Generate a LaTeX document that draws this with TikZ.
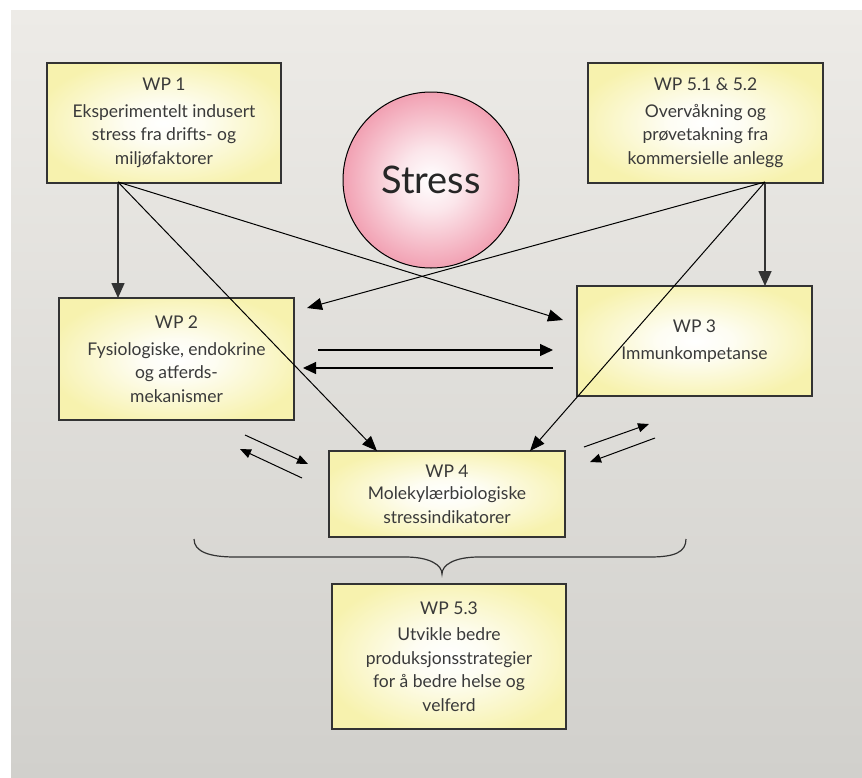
\documentclass[tikz,border=0pt]{standalone}
\usepackage{fontspec}
\setmainfont{Lato}
\usetikzlibrary{arrows.meta,shadings}
\definecolor{bgtop}{HTML}{EDEBE7}
\definecolor{bgbot}{HTML}{D1D0CC}
\definecolor{boxyel}{HTML}{F7F2AE}
\definecolor{pinkc}{HTML}{ED8199}
\definecolor{txt}{HTML}{3A3A3A}
\definecolor{edge}{HTML}{333333}
\pgfdeclareradialshading{stressshade}{\pgfpoint{0bp}{0bp}}{color(0bp)=(white); color(9bp)=(white!80!pinkc); color(30bp)=(pinkc!92!white); color(50bp)=(pinkc)}
\pgfdeclareradialshading{boxshade}{\pgfpoint{0bp}{0bp}}{color(0bp)=(white); color(8bp)=(white!85!boxyel); color(28bp)=(boxyel); color(50bp)=(boxyel)}
\begin{document}
\begin{tikzpicture}[x=1pt,y=-1pt,
  wpbox/.style={draw=edge,line width=1.2pt,shading=boxshade,
    align=center,text=txt,font=\fontsize{17.5}{23.5}\selectfont,inner sep=0pt},
  bigarrow/.style={draw=black,line width=1pt,-{Triangle[length=15pt,width=12pt]}},
  vertarrow/.style={draw=edge,line width=1.6pt,-{Triangle[length=15pt,width=13pt]}},
  smallarrow/.style={draw=black,line width=1pt,-{Triangle[length=11pt,width=9pt]}},
  midarrow/.style={draw=black,line width=1.2pt,-{Triangle[length=13pt,width=12pt]}}]
\useasboundingbox (0,0) rectangle (862,777);
\fill[white] (0,0) rectangle (862,777);
\shade[top color=bgtop,bottom color=bgbot] (11,10) rectangle (862,777);

% boxes
\node[wpbox,minimum width=234pt,minimum height=120pt] (wp1) at (164,123)
  {WP 1\\[3pt]Eksperimentelt indusert\\stress fra drifts- og\\miljøfaktorer};
\node[wpbox,minimum width=235pt,minimum height=120pt] (wp5) at (705.5,123)
  {WP 5.1 \& 5.2\\[3pt]Overvåkning og\\prøvetakning fra\\kommersielle anlegg};
\node[wpbox,minimum width=235pt,minimum height=122pt] (wp2) at (176.5,359)
  {WP 2\\[3pt]Fysiologiske, endokrine\\og atferds-\\mekanismer};
\node[wpbox,minimum width=235pt,minimum height=110pt] (wp3) at (694.5,341)
  {WP 3\\[3pt]Immunkompetanse};
\node[wpbox,minimum width=236pt,minimum height=86pt] (wp4) at (447,494)
  {WP 4\\[-1pt]Molekylærbiologiske\\stressindikatorer};
\node[wpbox,minimum width=234pt,minimum height=145pt] (wp53) at (449,656.5)
  {WP 5.3\\[3pt]Utvikle bedre\\produksjonsstrategier\\for å bedre helse og\\velferd};

% stress circle
\node[circle,draw=black,line width=1pt,shading=stressshade,
  minimum size=176pt,inner sep=0pt,text=black!85,font=\fontsize{38}{40}\selectfont]
  (stress) at (431,180) {Stress};

% anchor coordinates
\coordinate (o1) at (118,182);
\coordinate (o5) at (765,182);
\coordinate (t2) at (118,298);
\coordinate (t3) at (765,286);
\coordinate (a4l) at (377,451);
\coordinate (a4r) at (530,451);
\coordinate (a3) at (563,320);
\coordinate (a2) at (307,308);
\coordinate (h1s) at (318,350);
\coordinate (h1e) at (553,350);
\coordinate (h2s) at (553,368);
\coordinate (h2e) at (303,368);
\coordinate (l1s) at (245,435);
\coordinate (l1e) at (308,464);
\coordinate (l2s) at (302,478);
\coordinate (l2e) at (240,449);
\coordinate (r1s) at (584,447);
\coordinate (r1e) at (649,424);
\coordinate (r2s) at (655,438);
\coordinate (r2e) at (590,462);

% connectors
\draw[vertarrow] (o1) -- (t2);
\draw[vertarrow] (o5) -- (t3);
\draw[bigarrow] (o1) -- (a4l);
\draw[bigarrow] (o1) -- (a3);
\draw[bigarrow] (o5) -- (a2);
\draw[bigarrow] (o5) -- (a4r);
\draw[midarrow] (h1s) -- (h1e);
\draw[midarrow] (h2s) -- (h2e);
\draw[smallarrow] (l1s) -- (l1e);
\draw[smallarrow] (l2s) -- (l2e);
\draw[smallarrow] (r1s) -- (r1e);
\draw[smallarrow] (r2s) -- (r2e);

% brace
\draw[edge,line width=1.2pt] (194,539) .. controls (194,552) and (210,557) .. (235,557)
  -- (405,557) .. controls (430,557) and (442,565) .. (442,574)
  .. controls (442,565) and (454,557) .. (479,557)
  -- (650,557) .. controls (675,557) and (686,552) .. (686,539);
\end{tikzpicture}
\end{document}
